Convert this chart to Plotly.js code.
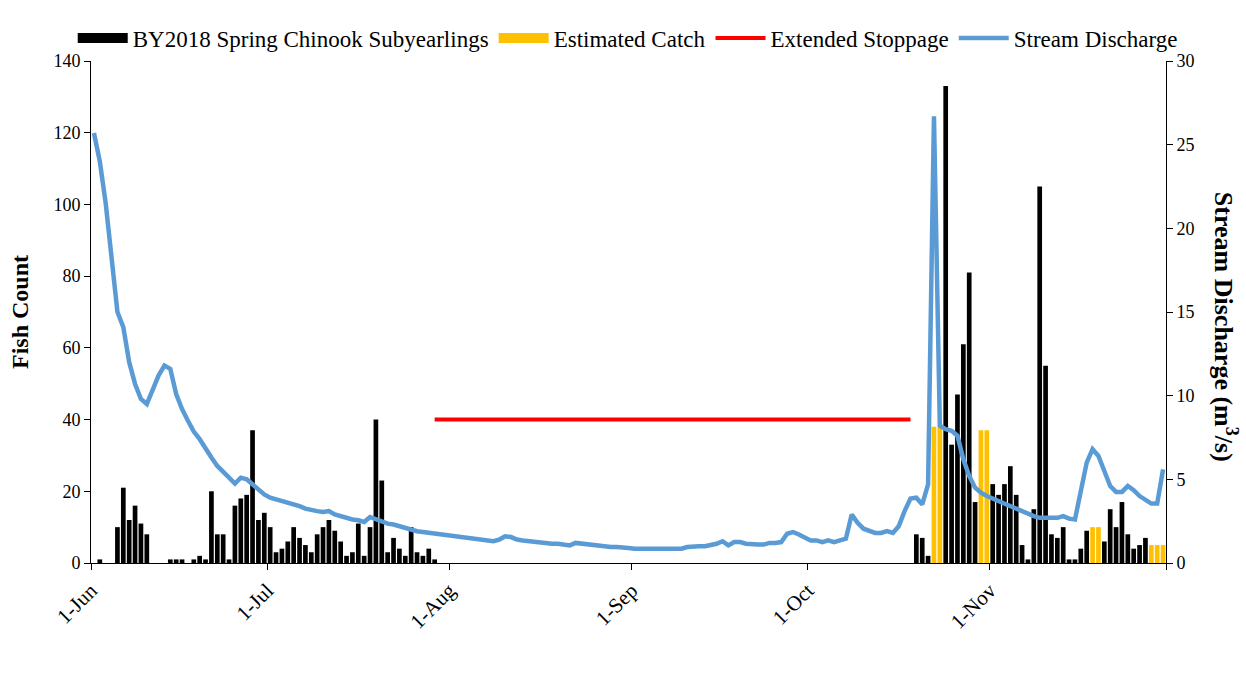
<!DOCTYPE html>
<html>
<head>
<meta charset="utf-8">
<script src="https://cdn.plot.ly/plotly-3.0.1.min.js"></script>
<style>html,body{margin:0;padding:0;background:#fff;}#chart{width:1246px;height:676px;}</style>
</head>
<body>
<div id="chart"></div>
<script>
// ---- Data (2019 season) ----
var seasonStart = '2019-06-01';
var seasonEnd = '2019-12-01';

var fishDates = [
  '2019-06-02','2019-06-05','2019-06-06','2019-06-07','2019-06-08','2019-06-09','2019-06-10',
  '2019-06-14','2019-06-15','2019-06-16','2019-06-18','2019-06-19','2019-06-20','2019-06-21',
  '2019-06-22','2019-06-23','2019-06-24','2019-06-25','2019-06-26','2019-06-27','2019-06-28',
  '2019-06-29','2019-06-30','2019-07-01','2019-07-02','2019-07-03','2019-07-04','2019-07-05',
  '2019-07-06','2019-07-07','2019-07-08','2019-07-09','2019-07-10','2019-07-11','2019-07-12',
  '2019-07-13','2019-07-14','2019-07-15','2019-07-16','2019-07-17','2019-07-18','2019-07-19',
  '2019-07-20','2019-07-21','2019-07-22','2019-07-23','2019-07-24','2019-07-25','2019-07-26',
  '2019-07-27','2019-07-28','2019-07-29',
  '2019-10-19','2019-10-20','2019-10-21','2019-10-24','2019-10-25','2019-10-26','2019-10-27',
  '2019-10-28','2019-10-29','2019-11-01','2019-11-02','2019-11-03','2019-11-04','2019-11-05',
  '2019-11-06','2019-11-07','2019-11-08','2019-11-09','2019-11-10','2019-11-11','2019-11-12',
  '2019-11-13','2019-11-14','2019-11-15','2019-11-16','2019-11-17','2019-11-20','2019-11-21',
  '2019-11-22','2019-11-23','2019-11-24','2019-11-25','2019-11-26','2019-11-27'
];
var fishCounts = [
  1,10,21,12,16,11,8,
  1,1,1,1,2,1,20,
  8,8,1,16,18,19,37,
  12,14,10,3,4,6,10,
  7,5,3,8,10,12,9,
  6,2,3,11,2,10,40,
  23,3,7,4,2,10,3,
  2,4,1,
  8,7,2,133,33,47,61,
  81,17,22,19,22,27,19,
  5,1,15,105,55,8,7,
  10,1,1,4,9,6,15,
  10,17,8,4,5,7
];

var estDates = ['2019-10-22','2019-10-23','2019-10-30','2019-10-31','2019-11-18','2019-11-19','2019-11-28','2019-11-29','2019-11-30'];
var estCounts = [38,38,37,37,10,10,5,5,5];

var stoppageDates = ['2019-07-29','2019-10-18'];
var stoppageLevel = [40,40];

// daily stream discharge (m3/s), 1-Jun through 30-Nov
var discharge = [
  25.7,24.0,21.5,18.0,15.0,14.1,12.0,10.7,9.8,9.5,
  10.3,11.2,11.8,11.6,10.1,9.2,8.5,7.85,7.4,6.8,
  6.3,5.8,5.4,5.1,4.75,5.1,5.0,4.7,4.35,4.1,
  3.9,3.8,3.75,3.6,3.5,3.4,3.25,3.15,3.1,3.05,
  3.1,2.9,2.8,2.65,2.6,2.55,2.45,2.75,2.6,2.5,
  2.35,2.3,2.2,2.1,1.95,1.9,1.85,1.8,1.8,1.75,
  1.65,1.6,1.55,1.5,1.5,1.45,1.4,1.35,1.3,1.4,
  1.6,1.55,1.4,1.35,1.3,1.25,1.2,1.15,1.15,1.15,
  1.1,1.05,1.2,1.15,1.1,1.1,1.05,0.95,0.95,0.95,
  0.95,0.9,0.85,0.85,0.85,0.85,0.85,0.85,0.85,0.85,
  0.85,0.95,1.0,1.0,1.0,1.05,1.15,1.3,1.05,1.25,
  1.25,1.15,1.1,1.1,1.1,1.2,1.2,1.25,1.75,1.85,
  1.7,1.5,1.35,1.35,1.25,1.35,1.25,1.35,1.45,2.9,
  2.4,2.05,1.9,1.8,1.8,1.9,1.8,2.2,3.1,3.85,
  3.9,3.5,4.7,26.7,8.2,8.0,7.9,7.6,6.2,5.2,
  4.5,4.2,4.0,3.85,3.65,3.5,3.35,3.25,3.1,2.9,
  2.8,2.7,2.7,2.7,2.7,2.8,2.65,2.6,4.3,6.0,
  6.8,6.4,5.5,4.6,4.25,4.25,4.6,4.35,4.0,3.75,
  3.55,3.55,5.6
];

var monthTicks = ['2019-06-01','2019-07-01','2019-08-01','2019-09-01','2019-10-01','2019-11-01'];
var monthLabels = ['1-Jun','1-Jul','1-Aug','1-Sep','1-Oct','1-Nov'];
var endTick = ['2019-12-01'];

var seriesNames = ['BY2018 Spring Chinook Subyearlings','Estimated Catch','Extended Stoppage','Stream Discharge'];

// ---- Build ----
function noon(d) { return d + ' 12:00'; }
var dischargeDates = discharge.map(function (v, i) {
  var d = new Date(Date.UTC(2019, 5, 1 + i));
  return d.toISOString().slice(0, 10);
});

var FONT = 'Liberation Serif, Times New Roman, serif';
var BLACK = '#000000', ORANGE = '#FFC000', RED = '#FF0000', BLUE = '#5B9BD5';

var traces = [
  {type:'bar', x: fishDates.map(noon), y: fishCounts, name: seriesNames[0], marker:{color:BLACK, line:{width:0}}, showlegend:false, hoverinfo:'x+y'},
  {type:'bar', x: estDates.map(noon), y: estCounts, name: seriesNames[1], marker:{color:ORANGE, line:{width:0}}, showlegend:false, hoverinfo:'x+y'},
  // legend entries styled like Excel's wide swatches
  {type:'scatter', mode:'lines', x:[null], y:[null], name: seriesNames[0], line:{color:BLACK, width:10}},
  {type:'scatter', mode:'lines', x:[null], y:[null], name: seriesNames[1], line:{color:ORANGE, width:10}},
  {type:'scatter', mode:'lines', x: stoppageDates.map(noon), y: stoppageLevel, name: seriesNames[2], line:{color:RED, width:4}},
  {type:'scatter', mode:'lines', x: dischargeDates.map(noon), y: discharge, name: seriesNames[3], yaxis:'y2', line:{color:BLUE, width:4.5}}
];

var axisCommon = {
  showline:true, linecolor:'#000', linewidth:1, ticks:'outside', ticklen:6, tickcolor:'#000', tickwidth:1,
  showgrid:false, zeroline:false, tickfont:{family:FONT, size:18, color:'#000'}
};

var layout = {
  width:1246, height:676,
  margin:{l:91, r:80, t:61, b:113, pad:0, autoexpand:false},
  paper_bgcolor:'#fff', plot_bgcolor:'#fff',
  font:{family:FONT, color:'#000'},
  barmode:'group', bargap:0.2, bargroupgap:0,
  showlegend:true,
  legend:{orientation:'h', x:-0.017, xanchor:'left', y:1.003, yanchor:'bottom', font:{family:FONT, size:23, color:'#000'}, itemwidth:50, traceorder:'normal', bgcolor:'rgba(0,0,0,0)'},
  xaxis: Object.assign({}, axisCommon, {
    type:'date', range:[seasonStart, seasonEnd], tickmode:'array', tickvals:monthTicks, ticktext:monthLabels, tickangle:-45,
    tickfont:{family:FONT, size:21, color:'#000'},
    minor:{tickmode:'array', tickvals:endTick, ticks:'outside', ticklen:6, tickcolor:'#000', tickwidth:1, showgrid:false}
  }),
  yaxis: Object.assign({}, axisCommon, {
    range:[0,140], dtick:20, tick0:0, automargin:false,
    title:{text:'<b>Fish Count</b>', font:{family:FONT, size:24, color:'#000'}, standoff:18}
  }),
  yaxis2: Object.assign({}, axisCommon, {
    range:[0,30], dtick:5, tick0:0, overlaying:'y', side:'right', automargin:false
  }),
  annotations:[
    {xref:'paper', yref:'paper', x:1.056, y:0.47, xanchor:'center', yanchor:'middle', textangle:90, showarrow:false,
     text:'<b>Stream Discharge (m<sup>3</sup>/s)</b>', font:{family:FONT, size:26, color:'#000'}}
  ]
};

Plotly.newPlot('chart', traces, layout, {staticPlot:true, displayModeBar:false});
</script>
</body>
</html>
